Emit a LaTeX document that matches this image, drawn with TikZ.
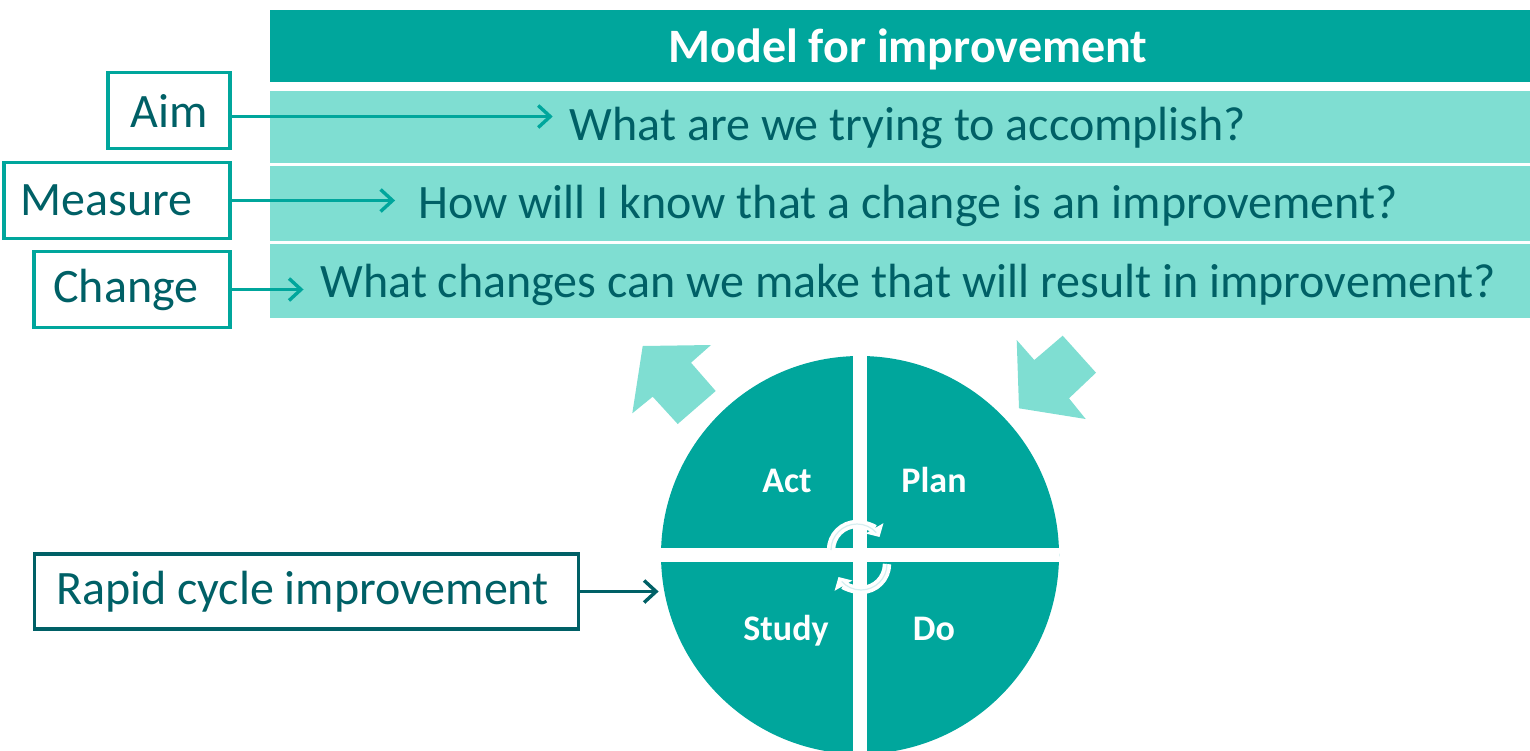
\documentclass[tikz,border=0pt]{standalone}
\usepackage{fontspec}
\setmainfont{Carlito}
\usetikzlibrary{arrows.meta, positioning}
\definecolor{pdsateal}{RGB}{0,166,156}
\definecolor{pdsalight}{RGB}{127,222,210}
\definecolor{pdsadark}{RGB}{0,96,102}
\definecolor{pdsapale}{RGB}{214,238,240}

\begin{document}
\begin{tikzpicture}[
    x=0.5pt, y=-0.5pt,
    head node/.style={anchor=base, text=white, font=\fontsize{24}{28}\selectfont\bfseries},
    question node/.style={anchor=base, text=pdsadark, font=\fontsize{24}{28}\selectfont},
    label node/.style={rectangle, draw=pdsateal, line width=1.6pt, text=pdsadark, anchor=east, minimum height=38pt, font=\fontsize{24}{28}\selectfont},
    quarter node/.style={anchor=base, text=white, font=\fontsize{18}{22}\selectfont\bfseries},
    arrow/.style={-{Straight Barb[length=6pt,width=11pt]}, line width=1.7pt, draw=pdsateal, shorten >=5pt},
    block arrow/.style={fill=pdsalight},
    turn arrow/.style={-{Triangle[length=5pt,width=10pt]}, line width=4.2pt, draw=white}
]
\useasboundingbox (0,0) rectangle (1530,750);

% Title and question bars
\fill[pdsateal] (270,10) rectangle (1530,82);
\fill[pdsalight] (270,90.7) rectangle (1530,162.7);
\fill[pdsalight] (270,166) rectangle (1530,240.5);
\fill[pdsalight] (270,244) rectangle (1530,318);

\node[head node] (title) at (908,62.7) {Model for improvement};
\node[question node] (aimq) at (908,140) {What are we trying to accomplish?};
\node[question node] (measureq) at (908,218.3) {How will I know that a change is an improvement?};
\node[question node] (changeq) at (908,297) {What changes can we make that will result in improvement?};

% Labels on the left
\node[label node, minimum width=61pt] (aim) at (231.5,110.5) {Aim};
\node[label node, minimum width=113pt] (measure) at (231.5,200.5) {\hspace{-10pt}Measure};
\node[label node, minimum width=98pt] (change) at (231.5,289.5) {\hspace{-6pt}Change};

\coordinate (aimout) at ([yshift=-3pt]aim.east);
\draw[arrow] (aimout) -- (aimout -| aimq.west);
\draw[arrow, shorten >=8pt] (measure.east) -- (measure.east -| measureq.west);
\draw[arrow] (change.east) -- (change.east -| changeq.west);

% PDSA cycle
\node[circle, fill=pdsateal, minimum size=199pt, inner sep=0pt] (pdsa) at (860,555) {};
\draw[white, line width=7.3pt] (pdsa.north) -- (pdsa.south) (pdsa.west) -- (pdsa.east);

\node[quarter node] (act) at (787,492) {Act};
\node[quarter node] (plan) at (934,492) {Plan};
\node[quarter node] (study) at (786,640) {Study};
\node[quarter node] (do) at (934,640) {Do};

% turning arrows in the middle
\draw[turn arrow] (831,550) arc[start angle=180, end angle=330, radius=26];
\draw[turn arrow] (887,564) arc[start angle=0, end angle=150, radius=26];
\draw[pdsapale, line width=0.6pt] (831,550) arc[start angle=180, end angle=318, radius=26];
\draw[pdsapale, line width=0.6pt] (887,564) arc[start angle=0, end angle=138, radius=26];

% big arrows above the cycle
\fill[block arrow] (642.7,346) -- (711,345) -- (691,362.7) -- (715.7,391) -- (677.7,424)
    -- (652.7,396.7) -- (632.3,413.3) -- cycle;
\fill[block arrow] (1016.7,340) -- (1034.3,360) -- (1062.7,335.7) -- (1096,372.7)
    -- (1069,398.3) -- (1085.7,419) -- (1019,408.3) -- cycle;

% Rapid cycle label
\node[label node, draw=pdsadark, minimum width=272pt, minimum height=37.5pt] (rapid) at (580,591.5) {\hspace{-4pt}Rapid cycle improvement};
\draw[arrow, draw=pdsadark, shorten >=1pt] (rapid.east) -- (rapid.east -| pdsa.west);

\end{tikzpicture}
\end{document}
